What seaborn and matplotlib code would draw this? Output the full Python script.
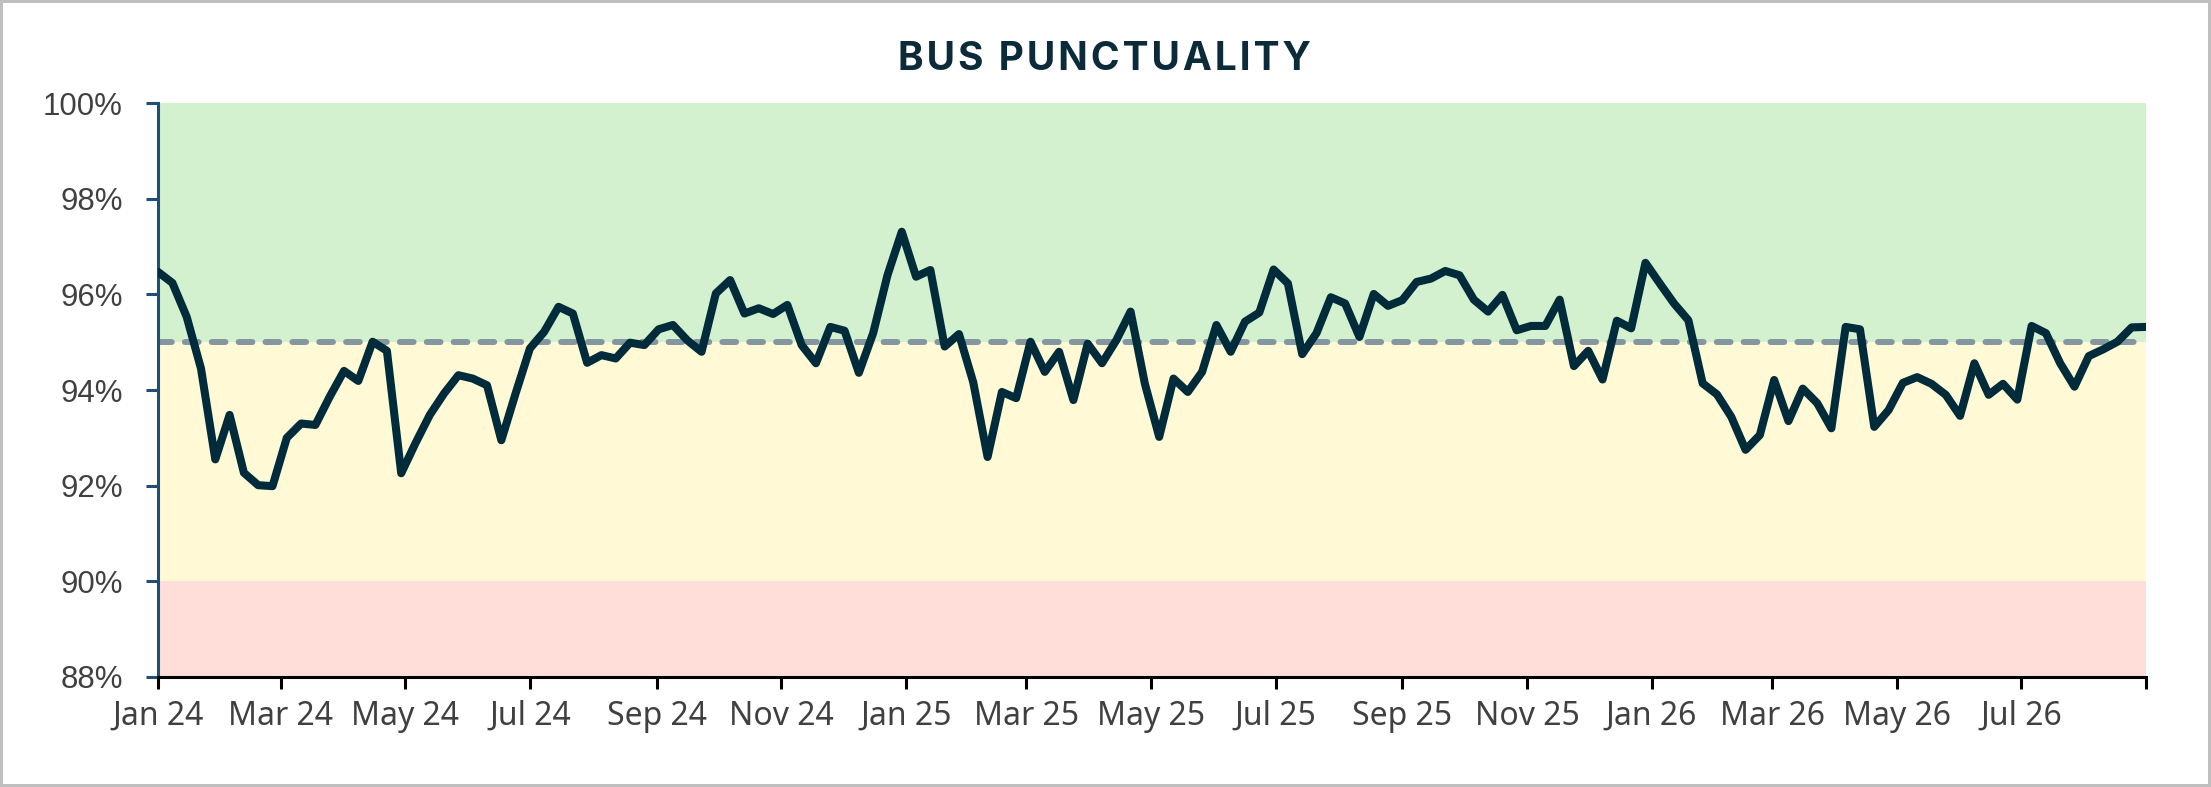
import pandas as pd
import numpy as np
import matplotlib
matplotlib.use("Agg")
import matplotlib.pyplot as plt
from matplotlib.ticker import PercentFormatter
import seaborn as sns

# weekly punctuality (%), starting Mon 1 Jan 2024
punct_2024 = [96.47, 96.24, 95.53, 94.45, 92.55, 93.48, 92.27, 92.01, 91.99, 93.00,
              93.30, 93.27, 93.86, 94.40, 94.19, 95.01, 94.82, 92.26, 92.89, 93.48,
              93.93, 94.31, 94.24, 94.10, 92.95, 93.93, 94.87, 95.22, 95.74, 95.60,
              94.57, 94.73, 94.66, 94.99, 94.94, 95.27, 95.36, 95.04, 94.80, 96.02,
              96.30, 95.60, 95.71, 95.59, 95.78, 94.94, 94.56, 95.32, 95.24, 94.36,
              95.19, 96.40]
punct_2025 = [97.31, 96.37, 96.51, 94.91, 95.17, 94.16, 92.60, 93.96, 93.83, 95.01,
              94.38, 94.80, 93.79, 94.97, 94.56, 95.04, 95.64, 94.13, 93.02, 94.24,
              93.96, 94.38, 95.36, 94.80, 95.43, 95.62, 96.52, 96.23, 94.75, 95.19,
              95.94, 95.81, 95.11, 96.01, 95.76, 95.88, 96.26, 96.33, 96.49, 96.40,
              95.89, 95.64, 95.99, 95.25, 95.34, 95.34, 95.89, 94.50, 94.82, 94.22,
              95.45, 95.29]
punct_2026 = [96.66, 96.23, 95.81, 95.46, 94.14, 93.91, 93.44, 92.75, 93.06, 94.21,
              93.35, 94.03, 93.73, 93.20, 95.32, 95.27, 93.23, 93.58, 94.15, 94.27,
              94.13, 93.90, 93.46, 94.56, 93.90, 94.13, 93.80, 95.34, 95.19, 94.56,
              94.07, 94.71, 94.85, 95.01, 95.31, 95.32]

target = 95
bands = [(95, 100, "#D3F1CF"), (90, 95, "#FFFAD5"), (88, 90, "#FFDDD8")]
title = "BUS PUNCTUALITY"

values = punct_2024 + punct_2025 + punct_2026
dates = pd.date_range("2024-01-01", periods=len(values), freq="7D")
df = pd.DataFrame({"week": dates, "punctuality": values})

sns.set_style("white")
plt.rcParams["font.family"] = ["Liberation Sans", "DejaVu Sans"]

fig = plt.figure(figsize=(22.11, 7.87), dpi=100, facecolor="white",
                 edgecolor="#BFBFBF", linewidth=4)
ax = fig.add_axes([0.0715, 0.1398, 0.8991, 0.7292])

for lo, hi, col in bands:
    ax.axhspan(lo, hi, color=col, zorder=0, lw=0)
ax.axhline(target, color="#8497A0", lw=4.3, ls=(0, (2.3, 2.2)),
           dash_capstyle="round", zorder=1)

sns.lineplot(data=df, x="week", y="punctuality", ax=ax, color="#002B3A",
             lw=5.8, zorder=3)

ax.set_xlim(dates[0], dates[-1])
ax.set_ylim(88, 100)
ax.set_yticks(np.arange(88, 101, 2))
ax.yaxis.set_major_formatter(PercentFormatter(decimals=0))

ticks = list(pd.date_range("2024-01-01", "2026-07-01", freq="2MS")) + [dates[-1]]
ax.set_xticks(ticks)
ax.set_xticklabels([t.strftime("%b %y") for t in ticks[:-1]] + [""],
                   family=["Noto Sans", "DejaVu Sans"], fontsize=23, color="#404040")
ax.set_xlabel("")
ax.set_ylabel("")

for s in ["top", "right"]:
    ax.spines[s].set_visible(False)
ax.spines["left"].set_color("#1F4E79")
ax.spines["left"].set_linewidth(2.2)
ax.spines["bottom"].set_color("black")
ax.spines["bottom"].set_linewidth(2.2)
ax.tick_params(axis="y", left=True, direction="out", length=8.5, width=2.2,
               color="#1F4E79", labelsize=22.5, labelcolor="#404040", pad=17)
ax.tick_params(axis="x", bottom=True, direction="out", length=8.5, width=2.2,
               color="black", pad=8)

spaced = "\u200a".join(title)
fig.text(0.4993, 0.925, spaced, ha="center", va="center", fontsize=28,
         fontweight="bold", color="#0B2A3A", family=["Inter", "DejaVu Sans"])

fig.savefig("out.png", dpi=100)
